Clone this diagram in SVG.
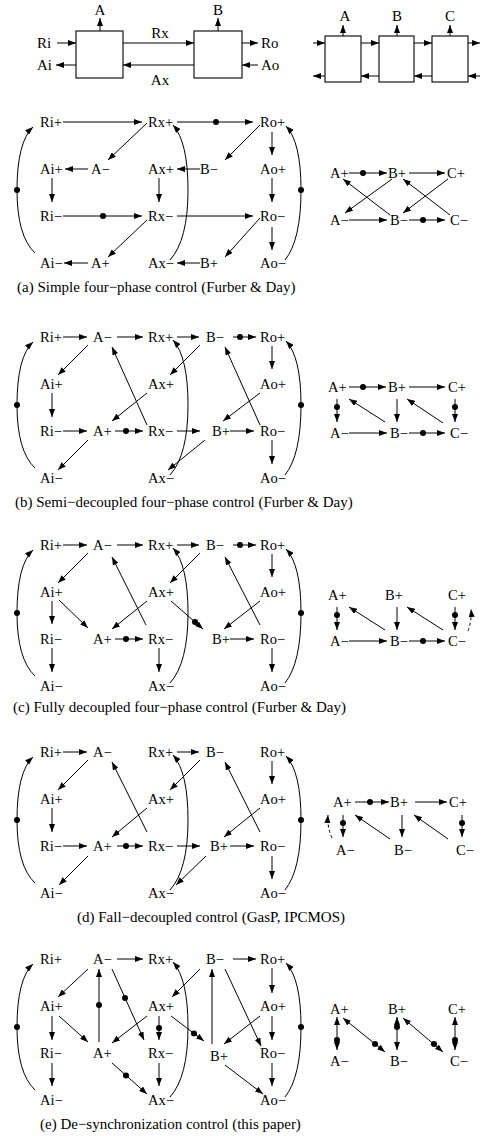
<svg xmlns="http://www.w3.org/2000/svg" width="484" height="1136" viewBox="0 0 484 1136">
<style>
text{font-family:"Liberation Serif","Times New Roman",serif;fill:#000}
.n{font-size:14.5px}
.c{font-size:15px}
.h{font-size:15px}
.m{text-anchor:middle}
.e{fill:none;stroke:#000;stroke-width:1;marker-end:url(#ah)}
.s{marker-start:url(#ah)}
.k{stroke-dasharray:3 2.5}
.bx{fill:#fff;stroke:#000;stroke-width:1.1}
.d{fill:#000}
</style>
<defs>
<marker id="ah" viewBox="0 0 8 6" refX="8" refY="3" markerWidth="8" markerHeight="6" markerUnits="userSpaceOnUse" orient="auto-start-reverse"><path d="M0,0L8,3L0,6z"/></marker>
</defs>
<rect width="484" height="1136" fill="#fff"/>

<!-- top block diagram -->
<g id="top">
<g id="boxA"><rect class="bx" x="76" y="31" width="47" height="47"/></g>
<g id="boxB"><rect class="bx" x="194" y="31" width="48" height="47"/></g>
<g id="topL-A"><text class="h m" x="100" y="15">A</text></g>
<g id="topL-B"><text class="h m" x="218" y="15">B</text></g>
<g id="topL-Ri"><text class="h" x="37" y="48">Ri</text></g>
<g id="topL-Ai"><text class="h" x="37" y="70">Ai</text></g>
<g id="topL-Rx"><text class="h m" x="160" y="38">Rx</text></g>
<g id="topL-Ax"><text class="h m" x="160" y="85">Ax</text></g>
<g id="topL-Ro"><text class="h" x="261" y="48">Ro</text></g>
<g id="topL-Ao"><text class="h" x="261" y="70">Ao</text></g>
<g id="boxR1"><rect class="bx" x="325" y="36" width="36" height="46"/></g>
<g id="boxR2"><rect class="bx" x="379" y="36" width="35" height="46"/></g>
<g id="boxR3"><rect class="bx" x="432" y="36" width="36" height="46"/></g>
<g id="topR-A"><text class="h m" x="345" y="21">A</text></g>
<g id="topR-B"><text class="h m" x="397" y="21">B</text></g>
<g id="topR-C"><text class="h m" x="450" y="21">C</text></g>
<g id="top-edges">
<path class="e" d="M100 31V18"/>
<path class="e" d="M218 31V18"/>
<path class="e" d="M57 43H76"/>
<path class="e" d="M76 65H56"/>
<path class="e" d="M123 43H194"/>
<path class="e" d="M194 65H123"/>
<path class="e" d="M242 43H258"/>
<path class="e" d="M258 65H242"/>
<path class="e" d="M313 43H325"/>
<path class="e" d="M361 43H379"/>
<path class="e" d="M414 43H432"/>
<path class="e" d="M468 43H480"/>
<path class="e" d="M325 76H313"/>
<path class="e" d="M379 76H361"/>
<path class="e" d="M432 76H414"/>
<path class="e" d="M480 76H468"/>
<path class="e" d="M343 36V25"/>
<path class="e" d="M397 36V25"/>
<path class="e" d="M450 36V25"/>
</g>
</g>

<!-- (a) -->
<g id="pa" transform="translate(0,122)">
<g id="a_Rip"><text class="n" x="40" y="5">Ri+</text></g>
<g id="a_Rxp"><text class="n" x="148" y="5">Rx+</text></g>
<g id="a_Rop"><text class="n" x="260" y="5">Ro+</text></g>
<g id="a_Aip"><text class="n" x="40" y="52">Ai+</text></g>
<g id="a_Am"><text class="n" x="91" y="52">A−</text></g>
<g id="a_Axp"><text class="n" x="148" y="52">Ax+</text></g>
<g id="a_Bm"><text class="n" x="200" y="52">B−</text></g>
<g id="a_Aop"><text class="n" x="260" y="52">Ao+</text></g>
<g id="a_Rim"><text class="n" x="40" y="99">Ri−</text></g>
<g id="a_Rxm"><text class="n" x="148" y="99">Rx−</text></g>
<g id="a_Rom"><text class="n" x="260" y="99">Ro−</text></g>
<g id="a_Aim"><text class="n" x="40" y="146">Ai−</text></g>
<g id="a_Ap"><text class="n" x="91" y="146">A+</text></g>
<g id="a_Axm"><text class="n" x="148" y="146">Ax−</text></g>
<g id="a_Bp"><text class="n" x="200" y="146">B+</text></g>
<g id="a_Aom"><text class="n" x="260" y="146">Ao−</text></g>
<g id="a_edges">
<path class="e" d="M63 0H142"/>
<path class="e" d="M177 0H253"/><circle class="d" cx="216" cy="0" r="3"/>
<path class="e" d="M147 1L108 38"/>
<path class="e" d="M260 3L225 38"/>
<path class="e" d="M88 47H65"/>
<path class="e" d="M200 47H177"/>
<path class="e" d="M52 56V80"/>
<path class="e" d="M159 56V80"/>
<path class="e" d="M272 10V33"/>
<path class="e" d="M272 56V80"/>
<path class="e" d="M63 94H142"/><circle class="d" cx="103" cy="94" r="3"/>
<path class="e" d="M177 94H253"/>
<path class="e" d="M147 98L108 135"/>
<path class="e" d="M260 96L225 135"/>
<path class="e" d="M272 105V128"/>
<path class="e" d="M88 141H64"/>
<path class="e" d="M200 141H177"/>
<path class="e" d="M35 131Q17 114 17 68Q17 20 33 5"/><circle class="d" cx="17" cy="68" r="3"/>
<path class="e" d="M170 138Q188 118 188 68Q188 20 173 3"/>
<path class="e" d="M285 138Q301 118 301 68Q301 20 286 4"/><circle class="d" cx="301" cy="68" r="3"/>
</g>
</g>
<g id="ra">
<g id="ra_Ap"><text class="n" x="330" y="178">A+</text></g>
<g id="ra_Bp"><text class="n" x="388" y="178">B+</text></g>
<g id="ra_Cp"><text class="n" x="447" y="178">C+</text></g>
<g id="ra_Am"><text class="n" x="330" y="225">A−</text></g>
<g id="ra_Bm"><text class="n" x="390" y="225">B−</text></g>
<g id="ra_Cm"><text class="n" x="450" y="225">C−</text></g>
<g id="ra_edges">
<path class="e" d="M349 173H387"/><circle class="d" cx="363" cy="173" r="3"/>
<path class="e" d="M409 173H445"/>
<path class="e" d="M349 220H387"/>
<path class="e" d="M409 220H445"/><circle class="d" cx="423" cy="220" r="3"/>
<path class="e" d="M392 179L345 213"/>
<path class="e" d="M390 215L343 179"/>
<path class="e" d="M448 179L403 213"/>
<path class="e" d="M450 215L403 179"/>
</g>
</g>
<g id="cap_a"><text class="c" x="17" y="292">(a) Simple four−phase control (Furber &amp; Day)</text></g>

<!-- (b) -->
<g id="pb" transform="translate(0,337)">
<g id="b_Rip"><text class="n" x="40" y="5">Ri+</text></g>
<g id="b_Am"><text class="n" x="93" y="5">A−</text></g>
<g id="b_Rxp"><text class="n" x="148" y="5">Rx+</text></g>
<g id="b_Bm"><text class="n" x="206" y="5">B−</text></g>
<g id="b_Rop"><text class="n" x="260" y="5">Ro+</text></g>
<g id="b_Aip"><text class="n" x="40" y="52">Ai+</text></g>
<g id="b_Axp"><text class="n" x="148" y="52">Ax+</text></g>
<g id="b_Aop"><text class="n" x="260" y="52">Ao+</text></g>
<g id="b_Rim"><text class="n" x="40" y="99">Ri−</text></g>
<g id="b_Ap"><text class="n" x="93" y="99">A+</text></g>
<g id="b_Rxm"><text class="n" x="148" y="99">Rx−</text></g>
<g id="b_Bp"><text class="n" x="212" y="99">B+</text></g>
<g id="b_Rom"><text class="n" x="260" y="99">Ro−</text></g>
<g id="b_Aim"><text class="n" x="40" y="146">Ai−</text></g>
<g id="b_Axm"><text class="n" x="148" y="146">Ax−</text></g>
<g id="b_Aom"><text class="n" x="260" y="146">Ao−</text></g>
<g id="b_edges">
<path class="e" d="M63 0H87"/>
<path class="e" d="M117 0H143"/>
<path class="e" d="M177 0H199"/>
<path class="e" d="M233 0H256"/><circle class="d" cx="240" cy="0" r="3"/>
<path class="e" d="M88 8L58 38"/>
<path class="e" d="M200 8L170 38"/>
<path class="e" d="M52 56V80"/>
<path class="e" d="M272 9V32"/>
<path class="e" d="M147 56L112 84"/>
<path class="e" d="M260 56L223 84"/>
<path class="e" d="M147 88L112 10"/>
<path class="e" d="M260 88L225 10"/>
<path class="e" d="M63 94H87"/>
<path class="e" d="M115 94H143"/><circle class="d" cx="126" cy="94" r="3"/>
<path class="e" d="M177 94H200"/>
<path class="e" d="M230 94H254"/>
<path class="e" d="M88 103L58 133"/>
<path class="e" d="M205 103L168 133"/>
<path class="e" d="M272 103V127"/>
<path class="e" d="M35 131Q17 114 17 68Q17 20 33 5"/><circle class="d" cx="17" cy="68" r="3"/>
<path class="e" d="M170 138Q188 118 188 68Q188 20 173 3"/>
<path class="e" d="M285 138Q301 118 301 68Q301 20 286 4"/><circle class="d" cx="301" cy="68" r="3"/>
</g>
</g>
<g id="rb">
<g id="rb_Ap"><text class="n" x="328" y="392">A+</text></g>
<g id="rb_Bp"><text class="n" x="388" y="392">B+</text></g>
<g id="rb_Cp"><text class="n" x="448" y="392">C+</text></g>
<g id="rb_Am"><text class="n" x="330" y="438">A−</text></g>
<g id="rb_Bm"><text class="n" x="390" y="438">B−</text></g>
<g id="rb_Cm"><text class="n" x="450" y="438">C−</text></g>
<g id="rb_edges">
<path class="e" d="M349 387H386"/><circle class="d" cx="363" cy="387" r="3"/>
<path class="e" d="M409 387H445"/>
<path class="e" d="M337 399V422"/><circle class="d" cx="337" cy="407" r="3"/>
<path class="e" d="M397 399V422"/>
<path class="e" d="M455 399V422"/><circle class="d" cx="455" cy="407" r="3"/>
<path class="e" d="M349 433H387"/>
<path class="e" d="M409 433H445"/><circle class="d" cx="423" cy="433" r="3"/>
<path class="e" d="M385 422L349 399"/>
<path class="e" d="M443 423L407 399"/>
</g>
</g>
<g id="cap_b"><text class="c" x="15" y="507">(b) Semi−decoupled four−phase control (Furber &amp; Day)</text></g>

<!-- (c) -->
<g id="pc" transform="translate(0,545)">
<g id="c_Rip"><text class="n" x="40" y="5">Ri+</text></g>
<g id="c_Am"><text class="n" x="93" y="5">A−</text></g>
<g id="c_Rxp"><text class="n" x="148" y="5">Rx+</text></g>
<g id="c_Bm"><text class="n" x="206" y="5">B−</text></g>
<g id="c_Rop"><text class="n" x="260" y="5">Ro+</text></g>
<g id="c_Aip"><text class="n" x="40" y="52">Ai+</text></g>
<g id="c_Axp"><text class="n" x="148" y="52">Ax+</text></g>
<g id="c_Aop"><text class="n" x="260" y="52">Ao+</text></g>
<g id="c_Rim"><text class="n" x="40" y="99">Ri−</text></g>
<g id="c_Ap"><text class="n" x="93" y="99">A+</text></g>
<g id="c_Rxm"><text class="n" x="148" y="99">Rx−</text></g>
<g id="c_Bp"><text class="n" x="212" y="99">B+</text></g>
<g id="c_Rom"><text class="n" x="260" y="99">Ro−</text></g>
<g id="c_Aim"><text class="n" x="40" y="146">Ai−</text></g>
<g id="c_Axm"><text class="n" x="148" y="146">Ax−</text></g>
<g id="c_Aom"><text class="n" x="260" y="146">Ao−</text></g>
<g id="c_edges">
<path class="e" d="M63 0H87"/>
<path class="e" d="M117 0H143"/>
<path class="e" d="M177 0H199"/>
<path class="e" d="M233 0H256"/><circle class="d" cx="240" cy="0" r="3"/>
<path class="e" d="M88 8L58 38"/>
<path class="e" d="M200 8L170 38"/>
<path class="e" d="M272 9V32"/>
<path class="e" d="M146 80L112 12"/>
<path class="e" d="M260 80L225 12"/>
<path class="e" d="M52 56V79"/>
<path class="e" d="M59 55L88 83"/>
<path class="e" d="M147 56L112 84"/>
<path class="e" d="M171 56L203 84"/><circle class="d" cx="195" cy="77" r="3"/>
<path class="e" d="M260 56L224 84"/>
<path class="e" d="M115 94H143"/><circle class="d" cx="126" cy="94" r="3"/>
<path class="e" d="M230 94H254"/>
<path class="e" d="M52 103V127"/>
<path class="e" d="M159 103V127"/>
<path class="e" d="M272 103V127"/>
<path class="e" d="M35 131Q17 114 17 68Q17 20 33 5"/><circle class="d" cx="17" cy="68" r="3"/>
<path class="e" d="M170 138Q188 118 188 68Q188 20 173 3"/>
<path class="e" d="M285 138Q301 118 301 68Q301 20 286 4"/><circle class="d" cx="301" cy="68" r="3"/>
</g>
</g>
<g id="rc">
<g id="rc_Ap"><text class="n" x="328" y="600">A+</text></g>
<g id="rc_Bp"><text class="n" x="385" y="600">B+</text></g>
<g id="rc_Cp"><text class="n" x="448" y="600">C+</text></g>
<g id="rc_Am"><text class="n" x="330" y="646">A−</text></g>
<g id="rc_Bm"><text class="n" x="390" y="646">B−</text></g>
<g id="rc_Cm"><text class="n" x="448" y="646">C−</text></g>
<g id="rc_edges">
<path class="e" d="M337 607V630"/><circle class="d" cx="337" cy="615" r="3"/>
<path class="e" d="M397 607V630"/>
<path class="e" d="M455 607V630"/><circle class="d" cx="455" cy="615" r="3"/>
<path class="e k" d="M468 631Q472 620 471 609"/>
<path class="e" d="M385 630L349 607"/>
<path class="e" d="M443 630L407 607"/>
<path class="e" d="M349 641H387"/>
<path class="e" d="M409 641H445"/><circle class="d" cx="423" cy="641" r="3"/>
</g>
</g>
<g id="cap_c"><text class="c" x="13" y="712">(c) Fully decoupled four−phase control (Furber &amp; Day)</text></g>

<!-- (d) -->
<g id="pd" transform="translate(0,752)">
<g id="d_Rip"><text class="n" x="40" y="5">Ri+</text></g>
<g id="d_Am"><text class="n" x="93" y="5">A−</text></g>
<g id="d_Rxp"><text class="n" x="148" y="5">Rx+</text></g>
<g id="d_Bm"><text class="n" x="206" y="5">B−</text></g>
<g id="d_Rop"><text class="n" x="260" y="5">Ro+</text></g>
<g id="d_Aip"><text class="n" x="40" y="52">Ai+</text></g>
<g id="d_Axp"><text class="n" x="148" y="52">Ax+</text></g>
<g id="d_Aop"><text class="n" x="260" y="52">Ao+</text></g>
<g id="d_Rim"><text class="n" x="40" y="99">Ri−</text></g>
<g id="d_Ap"><text class="n" x="93" y="99">A+</text></g>
<g id="d_Rxm"><text class="n" x="148" y="99">Rx−</text></g>
<g id="d_Bp"><text class="n" x="210" y="99">B+</text></g>
<g id="d_Rom"><text class="n" x="260" y="99">Ro−</text></g>
<g id="d_Aim"><text class="n" x="40" y="146">Ai−</text></g>
<g id="d_Axm"><text class="n" x="148" y="146">Ax−</text></g>
<g id="d_Aom"><text class="n" x="260" y="146">Ao−</text></g>
<g id="d_edges">
<path class="e" d="M63 0H87"/>
<path class="e" d="M177 0H199"/>
<path class="e" d="M88 8L58 38"/>
<path class="e" d="M200 8L170 38"/>
<path class="e" d="M272 9V32"/>
<path class="e" d="M147 80L112 10"/>
<path class="e" d="M260 80L225 10"/>
<path class="e" d="M52 56V80"/>
<path class="e" d="M147 56L112 85"/>
<path class="e" d="M260 56L224 85"/>
<path class="e" d="M63 94H87"/>
<path class="e" d="M117 94H143"/><circle class="d" cx="126" cy="94" r="3"/>
<path class="e" d="M177 94H200"/>
<path class="e" d="M230 94H254"/>
<path class="e" d="M88 104L59 133"/>
<path class="e" d="M206 104L176 133"/>
<path class="e" d="M272 104V127"/>
<path class="e" d="M35 131Q17 114 17 68Q17 20 33 5"/><circle class="d" cx="17" cy="68" r="3"/>
<path class="e" d="M170 138Q188 118 188 68Q188 20 173 3"/>
<path class="e" d="M285 138Q301 118 301 68Q301 20 286 4"/><circle class="d" cx="301" cy="68" r="3"/>
</g>
</g>
<g id="rd">
<g id="rd_Ap"><text class="n" x="333" y="807">A+</text></g>
<g id="rd_Bp"><text class="n" x="390" y="807">B+</text></g>
<g id="rd_Cp"><text class="n" x="449" y="807">C+</text></g>
<g id="rd_Am"><text class="n" x="336" y="855">A−</text></g>
<g id="rd_Bm"><text class="n" x="394" y="855">B−</text></g>
<g id="rd_Cm"><text class="n" x="456" y="855">C−</text></g>
<g id="rd_edges">
<path class="e" d="M355 802H389"/><circle class="d" cx="370" cy="802" r="3"/>
<path class="e" d="M415 802H447"/>
<path class="e" d="M343 815V837"/><circle class="d" cx="343" cy="823" r="3"/>
<path class="e k" d="M332 838Q327 827 328 815"/>
<path class="e" d="M402 815V837"/>
<path class="e" d="M462 815V837"/><circle class="d" cx="462" cy="823" r="3"/>
<path class="e" d="M390 839L355 815"/>
<path class="e" d="M448 839L414 815"/>
</g>
</g>
<g id="cap_d"><text class="c" x="77" y="922">(d) Fall−decoupled control (GasP, IPCMOS)</text></g>

<!-- (e) -->
<g id="pe" transform="translate(0,959)">
<g id="e_Rip"><text class="n" x="40" y="5">Ri+</text></g>
<g id="e_Am"><text class="n" x="93" y="5">A−</text></g>
<g id="e_Rxp"><text class="n" x="148" y="5">Rx+</text></g>
<g id="e_Bm"><text class="n" x="206" y="5">B−</text></g>
<g id="e_Rop"><text class="n" x="260" y="5">Ro+</text></g>
<g id="e_Aip"><text class="n" x="40" y="52">Ai+</text></g>
<g id="e_Axp"><text class="n" x="148" y="52">Ax+</text></g>
<g id="e_Aop"><text class="n" x="260" y="52">Ao+</text></g>
<g id="e_Rim"><text class="n" x="40" y="99">Ri−</text></g>
<g id="e_Ap"><text class="n" x="93" y="99">A+</text></g>
<g id="e_Rxm"><text class="n" x="148" y="99">Rx−</text></g>
<g id="e_Bp"><text class="n" x="210" y="102">B+</text></g>
<g id="e_Rom"><text class="n" x="260" y="99">Ro−</text></g>
<g id="e_Aim"><text class="n" x="40" y="146">Ai−</text></g>
<g id="e_Axm"><text class="n" x="148" y="146">Ax−</text></g>
<g id="e_Aom"><text class="n" x="260" y="146">Ao−</text></g>
<g id="e_edges">
<path class="e" d="M117 0H143"/>
<path class="e" d="M233 0H256"/>
<path class="e" d="M88 10L58 38"/>
<path class="e" d="M112 10L144 81"/><circle class="d" cx="125" cy="39" r="3"/>
<path class="e" d="M99 83V10"/><circle class="d" cx="99" cy="46" r="3"/>
<path class="e" d="M52 57V81"/>
<path class="e" d="M59 57L88 83"/>
<path class="e" d="M147 57L112 84"/>
<path class="e" d="M159 57V81"/><circle class="d" cx="159" cy="69" r="3"/>
<path class="e" d="M171 57L204 82"/><circle class="d" cx="194" cy="74.5" r="3"/>
<path class="e" d="M200 10L172 38"/>
<path class="e" d="M212 85V10"/>
<path class="e" d="M225 10L261 87"/>
<path class="e" d="M260 57L224 85"/>
<path class="e" d="M272 9V34"/>
<path class="e" d="M272 57V81"/>
<path class="e" d="M52 104V127"/>
<path class="e" d="M112 104L147 135"/><circle class="d" cx="126" cy="116.5" r="3"/>
<path class="e" d="M159 104V127"/>
<path class="e" d="M225 106L263 135"/>
<path class="e" d="M272 104V127"/>
<path class="e" d="M35 131Q17 114 17 68Q17 20 33 5"/><circle class="d" cx="17" cy="68" r="3"/>
<path class="e" d="M170 138Q188 118 188 68Q188 20 173 3"/>
<path class="e" d="M285 138Q301 118 301 68Q301 20 286 4"/><circle class="d" cx="301" cy="68" r="3"/>
</g>
</g>
<g id="re">
<g id="re_Ap"><text class="n" x="330" y="1014">A+</text></g>
<g id="re_Bp"><text class="n" x="388" y="1014">B+</text></g>
<g id="re_Cp"><text class="n" x="448" y="1014">C+</text></g>
<g id="re_Am"><text class="n" x="330" y="1066">A−</text></g>
<g id="re_Bm"><text class="n" x="390" y="1066">B−</text></g>
<g id="re_Cm"><text class="n" x="450" y="1066">C−</text></g>
<g id="re_edges">
<path class="e s" d="M337 1017V1050"/><circle class="d" cx="337" cy="1040" r="3"/>
<path class="e s" d="M343 1018L385 1052"/><circle class="d" cx="375" cy="1044" r="3"/>
<path class="e s" d="M397 1017V1050"/><circle class="d" cx="397" cy="1027" r="3"/>
<path class="e s" d="M403 1018L443 1052"/><circle class="d" cx="434" cy="1044" r="3"/>
<path class="e s" d="M455 1017V1050"/><circle class="d" cx="455" cy="1040" r="3"/>
</g>
</g>
<g id="cap_e"><text class="c" x="40" y="1129">(e) De−synchronization control (this paper)</text></g>
</svg>
